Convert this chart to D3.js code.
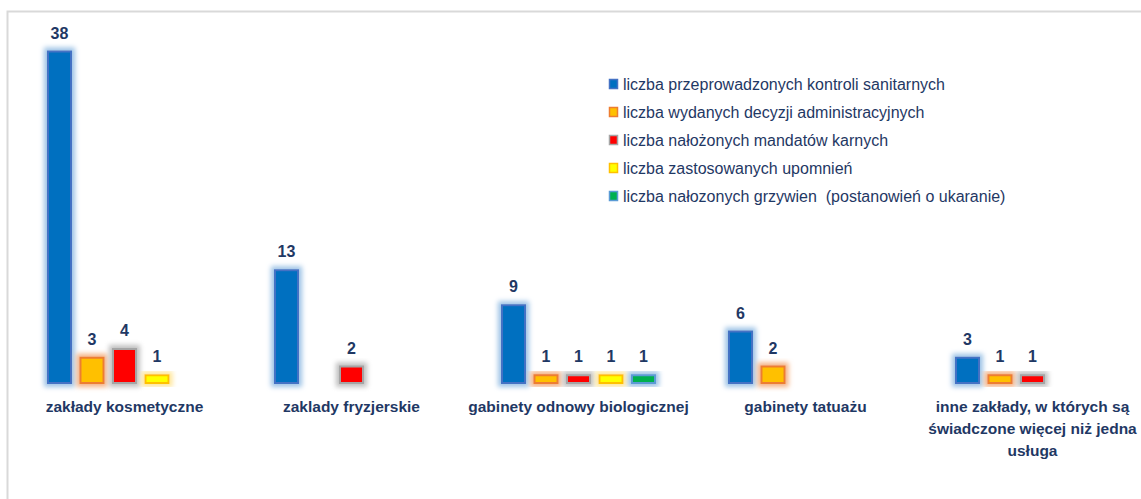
<!DOCTYPE html>
<html>
<head>
<meta charset="utf-8">
<script src="https://cdn.jsdelivr.net/npm/d3@7"></script>
<style>
  body { margin: 0; background: #fff; }
  svg { display: block; font-family: "Liberation Sans", Arial, sans-serif; }
</style>
</head>
<body>
<svg width="1141" height="499"></svg>
<script>
// data
const categories = ["zakłady kosmetyczne", "zaklady fryzjerskie", "gabinety odnowy biologicznej", "gabinety tatuażu", "inne zakłady"];
const categoryLines = [
  ["zakłady kosmetyczne"],
  ["zaklady fryzjerskie"],
  ["gabinety odnowy biologicznej"],
  ["gabinety tatuażu"],
  ["inne zakłady, w których są", "świadczone więcej niż jedna", "usługa"]
];
const seriesNames = [
  "liczba przeprowadzonych kontroli sanitarnych",
  "liczba wydanych decyzji administracyjnych",
  "liczba nałożonych mandatów karnych",
  "liczba zastosowanych upomnień",
  "liczba nałozonych grzywien  (postanowień o ukaranie)"
];
const kontrole   = [38, 13, 9, 6, 3];
const decyzje    = [3, 0, 1, 2, 1];
const mandaty    = [4, 2, 1, 0, 1];
const upomnienia = [1, 0, 1, 0, 0];
const grzywny    = [0, 0, 1, 0, 0];
const seriesValues = [kontrole, decyzje, mandaty, upomnienia, grzywny];

const fills   = ["#0070C0", "#FFC000", "#FF0000", "#FFFF00", "#00B050"];
const strokes = ["#4472C4", "#ED7D31", "#A5A5A5", "#FFC000", "#5B9BD5"];
const glows   = ["#9DC3E6", "#F4B183", "#BFBFBF", "#FFE699", "#9DC3E6"];
const textColor = "#1F3864";

const svg = d3.select("svg");

// chart frame
svg.append("rect").attr("x", 7.5).attr("y", 11.5).attr("width", 1150).attr("height", 500)
   .attr("fill", "none").attr("stroke", "#d9d9d9").attr("stroke-width", 2);

// glow filters
const defs = svg.append("defs");
glows.forEach((c, i) => {
  const f = defs.append("filter").attr("id", "glow" + i)
     .attr("x", "-50%").attr("y", "-50%").attr("width", "200%").attr("height", "200%");
  f.append("feMorphology").attr("in", "SourceAlpha").attr("operator", "dilate").attr("radius", 3).attr("result", "d");
  f.append("feGaussianBlur").attr("in", "d").attr("stdDeviation", 2.5).attr("result", "b");
  f.append("feFlood").attr("flood-color", c).attr("flood-opacity", 1);
  f.append("feComposite").attr("in2", "b").attr("operator", "in").attr("result", "g");
  const m = f.append("feMerge");
  m.append("feMergeNode").attr("in", "g");
  m.append("feMergeNode").attr("in", "SourceGraphic");
});

const x0 = d3.scaleBand().domain(categories).range([11, 1146]);
const x1 = d3.scaleBand().domain(d3.range(seriesNames.length))
   .range([32.25, 194.75]).paddingInner(0.23).paddingOuter(0.115);
const y = d3.scaleLinear().domain([0, 40]).range([383, 33]);

const rows = [];
seriesValues.forEach((vals, s) => vals.forEach((v, c) => { if (v > 0) rows.push({s, c, v}); }));

const g = svg.append("g");
g.selectAll("rect.bar").data(rows).enter().append("rect")
  .attr("class", "bar")
  .attr("x", d => x0(categories[d.c]) + x1(d.s) + 1)
  .attr("y", d => y(d.v) + 1)
  .attr("width", x1.bandwidth() - 2)
  .attr("height", d => y(0) - y(d.v) - 1)
  .attr("fill", d => fills[d.s])
  .attr("stroke", d => strokes[d.s])
  .attr("stroke-width", 2)
  .attr("filter", d => "url(#glow" + d.s + ")");

g.selectAll("text.val").data(rows).enter().append("text")
  .attr("class", "val")
  .attr("x", d => x0(categories[d.c]) + x1(d.s) + x1.bandwidth() / 2)
  .attr("y", d => y(d.v) - 12)
  .attr("text-anchor", "middle")
  .attr("font-size", "16px").attr("font-weight", "bold")
  .attr("fill", textColor)
  .text(d => d.v);

// category labels
categories.forEach((c, i) => {
  const t = svg.append("text")
    .attr("x", x0(c) + x0.bandwidth() / 2)
    .attr("y", 412)
    .attr("text-anchor", "middle")
    .attr("font-size", "15.5px").attr("font-weight", "bold")
    .attr("fill", textColor);
  categoryLines[i].forEach((line, j) => {
    t.append("tspan").attr("x", x0(c) + x0.bandwidth() / 2).attr("dy", j ? 22 : 0).text(line);
  });
});

// legend
const legend = svg.append("g").attr("transform", "translate(609,84)");
seriesNames.forEach((name, i) => {
  const row = legend.append("g").attr("transform", "translate(0," + i * 28 + ")");
  row.append("rect").attr("x", 0.5).attr("y", -4.5).attr("width", 8).attr("height", 9)
     .attr("fill", fills[i]).attr("stroke", strokes[i]).attr("stroke-width", 1.5);
  row.append("text").attr("x", 14).attr("y", 5.5)
     .attr("font-size", "16px").attr("fill", textColor)
     .attr("xml:space", "preserve")
     .text(name);
});
</script>
</body>
</html>
